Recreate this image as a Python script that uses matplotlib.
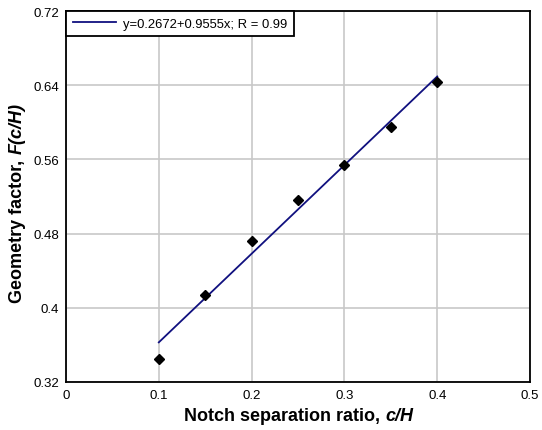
import matplotlib
matplotlib.use("Agg")
import matplotlib.pyplot as plt
import numpy as np

plt.rcParams['font.family'] = ['Liberation Sans', 'DejaVu Sans']

# measured data
ratio = np.array([0.10, 0.15, 0.20, 0.25, 0.30, 0.35, 0.40])
factor = np.array([0.345, 0.414, 0.472, 0.516, 0.554, 0.595, 0.643])

# linear fit shown in the legend
a, b = 0.2672, 0.9555
fitX = np.array([0.10, 0.40])
fitY = a + b*fitX

W, H = 542, 431
fig = plt.figure(figsize=(W/100, H/100), dpi=100)
ax = fig.add_axes([66/W, 1-383/H, 464/W, 371/H])

ax.plot(fitX, fitY, color="#10107f", lw=1.3, label="y=0.2672+0.9555x; R = 0.99", zorder=3)
ax.plot(ratio, factor, "D", color="black", ms=5.5, zorder=4)

ax.set_xlim(0, 0.5)
ax.set_ylim(0.32, 0.72)
ax.set_xticks([0, 0.1, 0.2, 0.3, 0.4, 0.5])
ax.set_xticklabels(["0", "0.1", "0.2", "0.3", "0.4", "0.5"])
ax.set_yticks([0.32, 0.4, 0.48, 0.56, 0.64, 0.72])
ax.set_yticklabels(["0.32", "0.4", "0.48", "0.56", "0.64", "0.72"])
ax.tick_params(labelsize=9.5, length=0, pad=5)
ax.grid(True, color="#c8c8c8", lw=1.2)
ax.set_axisbelow(True)
for s in ax.spines.values():
    s.set_linewidth(1.3)

leg = ax.legend(loc="upper left", fontsize=9.4, fancybox=False, framealpha=1,
                edgecolor="black", borderaxespad=0, handlelength=3.3,
                handletextpad=0.55, borderpad=0.5)
leg.get_frame().set_linewidth(1.3)

# axis labels: bold text followed by bold italic text
def twoPart(plain, ital, cx, cy, rot):
    kw = dict(fontsize=13, fontweight="bold", rotation=rot,
              rotation_mode="anchor", ha="left", va="baseline")
    t1 = fig.text(0, 0, plain, **kw)
    t2 = fig.text(0, 0, ital, fontstyle="italic", **kw)
    r = fig.canvas.get_renderer()
    b1 = t1.get_window_extent(r)
    b2 = t2.get_window_extent(r)
    if rot == 0:
        w1, w2 = b1.width, b2.width
        x0 = cx - (w1+w2)/2
        t1.set_position((x0/W, 1-cy/H))
        t2.set_position(((x0+w1)/W, 1-cy/H))
    else:
        w1, w2 = b1.height, b2.height
        y0 = (H-cy) - (w1+w2)/2
        t1.set_position((cx/W, y0/H))
        t2.set_position((cx/W, (y0+w1)/H))

twoPart("Notch separation ratio, ", "c/H", 299, 421, 0)
twoPart("Geometry factor, ", "F(c/H)", 22, 203, 90)

plt.savefig("out.png", dpi=100)
